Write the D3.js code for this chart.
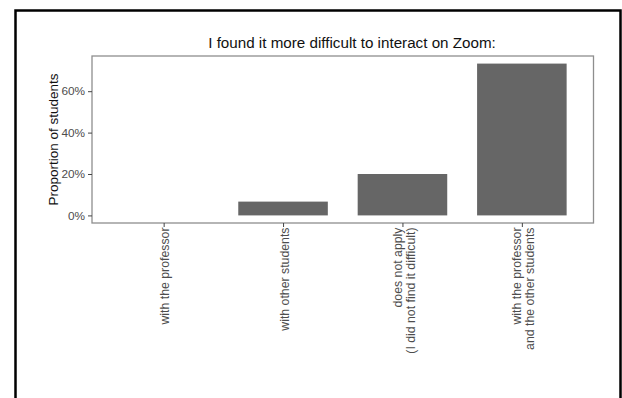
<!DOCTYPE html>
<html><head><meta charset="utf-8">
<script src="https://cdn.jsdelivr.net/npm/d3@7"></script>
<style>body{margin:0;background:#fff}svg{display:block}text{font-family:"Liberation Sans",Arial,sans-serif}</style>
</head><body><svg id="c" width="622" height="398"></svg>
<script>
const categories = ["with the professor", "with other students", "does not apply\n(I did not find it difficult)", "with the professor\nand the other students"];
const proportions = [0, 1/15, 3/15, 11/15];
const yTicks = [0, 0.2, 0.4, 0.6];
const title = "I found it more difficult to interact on Zoom:";
const yTitle = "Proportion of students";

const svg = d3.select("#c");
// outer frame
svg.append("path").attr("d","M15.5,400 V10.5 H620.5 V400").attr("fill","none").attr("stroke","#000").attr("stroke-width",2.5);

const L=92, R=593.5, T=56, B=223;
const maxV = d3.max(proportions);
const y = d3.scaleLinear().domain([-0.05*maxV, 1.05*maxV]).range([B, T]);
const step = (R-L)/4.2;
const xs = d3.scalePoint().domain(categories).range([L+0.6*step, R-0.6*step]);
const bw = 0.75*step;

svg.append("g").selectAll("rect").data(proportions).join("rect")
  .attr("x",(d,i)=>xs(categories[i])-bw/2).attr("width",bw)
  .attr("y",d=>y(Math.max(d,0))).attr("height",d=>y(0)-y(Math.max(d,0)))
  .attr("fill","#666666");

svg.append("rect").attr("x",L).attr("y",T).attr("width",R-L).attr("height",B-T)
  .attr("fill","none").attr("stroke","#8e8e8e").attr("stroke-width",1.3);

// y axis
const yAxis = d3.axisLeft(y).tickValues(yTicks).tickFormat(d3.format(".0%")).tickSize(4).tickPadding(3);
const gy = svg.append("g").attr("transform",`translate(${L},0)`).call(yAxis);
gy.select(".domain").remove();
gy.selectAll(".tick line").attr("stroke","#444");
gy.selectAll(".tick text").attr("fill","#4d4d4d").style("font-size","11.8px");

// x axis ticks
const xAxis = d3.axisBottom(xs).tickSize(4).tickFormat("");
const gx = svg.append("g").attr("transform",`translate(0,${B})`).call(xAxis);
gx.select(".domain").remove();
gx.selectAll(".tick line").attr("stroke","#444");
// x labels rotated
const lh = 12.8;
categories.forEach(c=>{
  const lines = c.split("\n");
  const g = svg.append("g").attr("transform",`translate(${xs(c)+1.5},${B+4.5}) rotate(-90)`);
  lines.forEach((ln,i)=>{
    g.append("text").attr("x",0).attr("y",(i-(lines.length-1)/2)*lh).attr("dy","0.35em")
      .attr("text-anchor","end").attr("fill","#4d4d4d").style("font-size","12.3px").text(ln);
  });
});

svg.append("text").attr("x",352).attr("y",48).attr("text-anchor","middle").attr("fill","#111").style("font-size","15.2px").text(title);
svg.append("text").attr("transform",`translate(58,${(T+B)/2}) rotate(-90)`).attr("text-anchor","middle").attr("fill","#111").style("font-size","13.5px").text(yTitle);
</script></body></html>
